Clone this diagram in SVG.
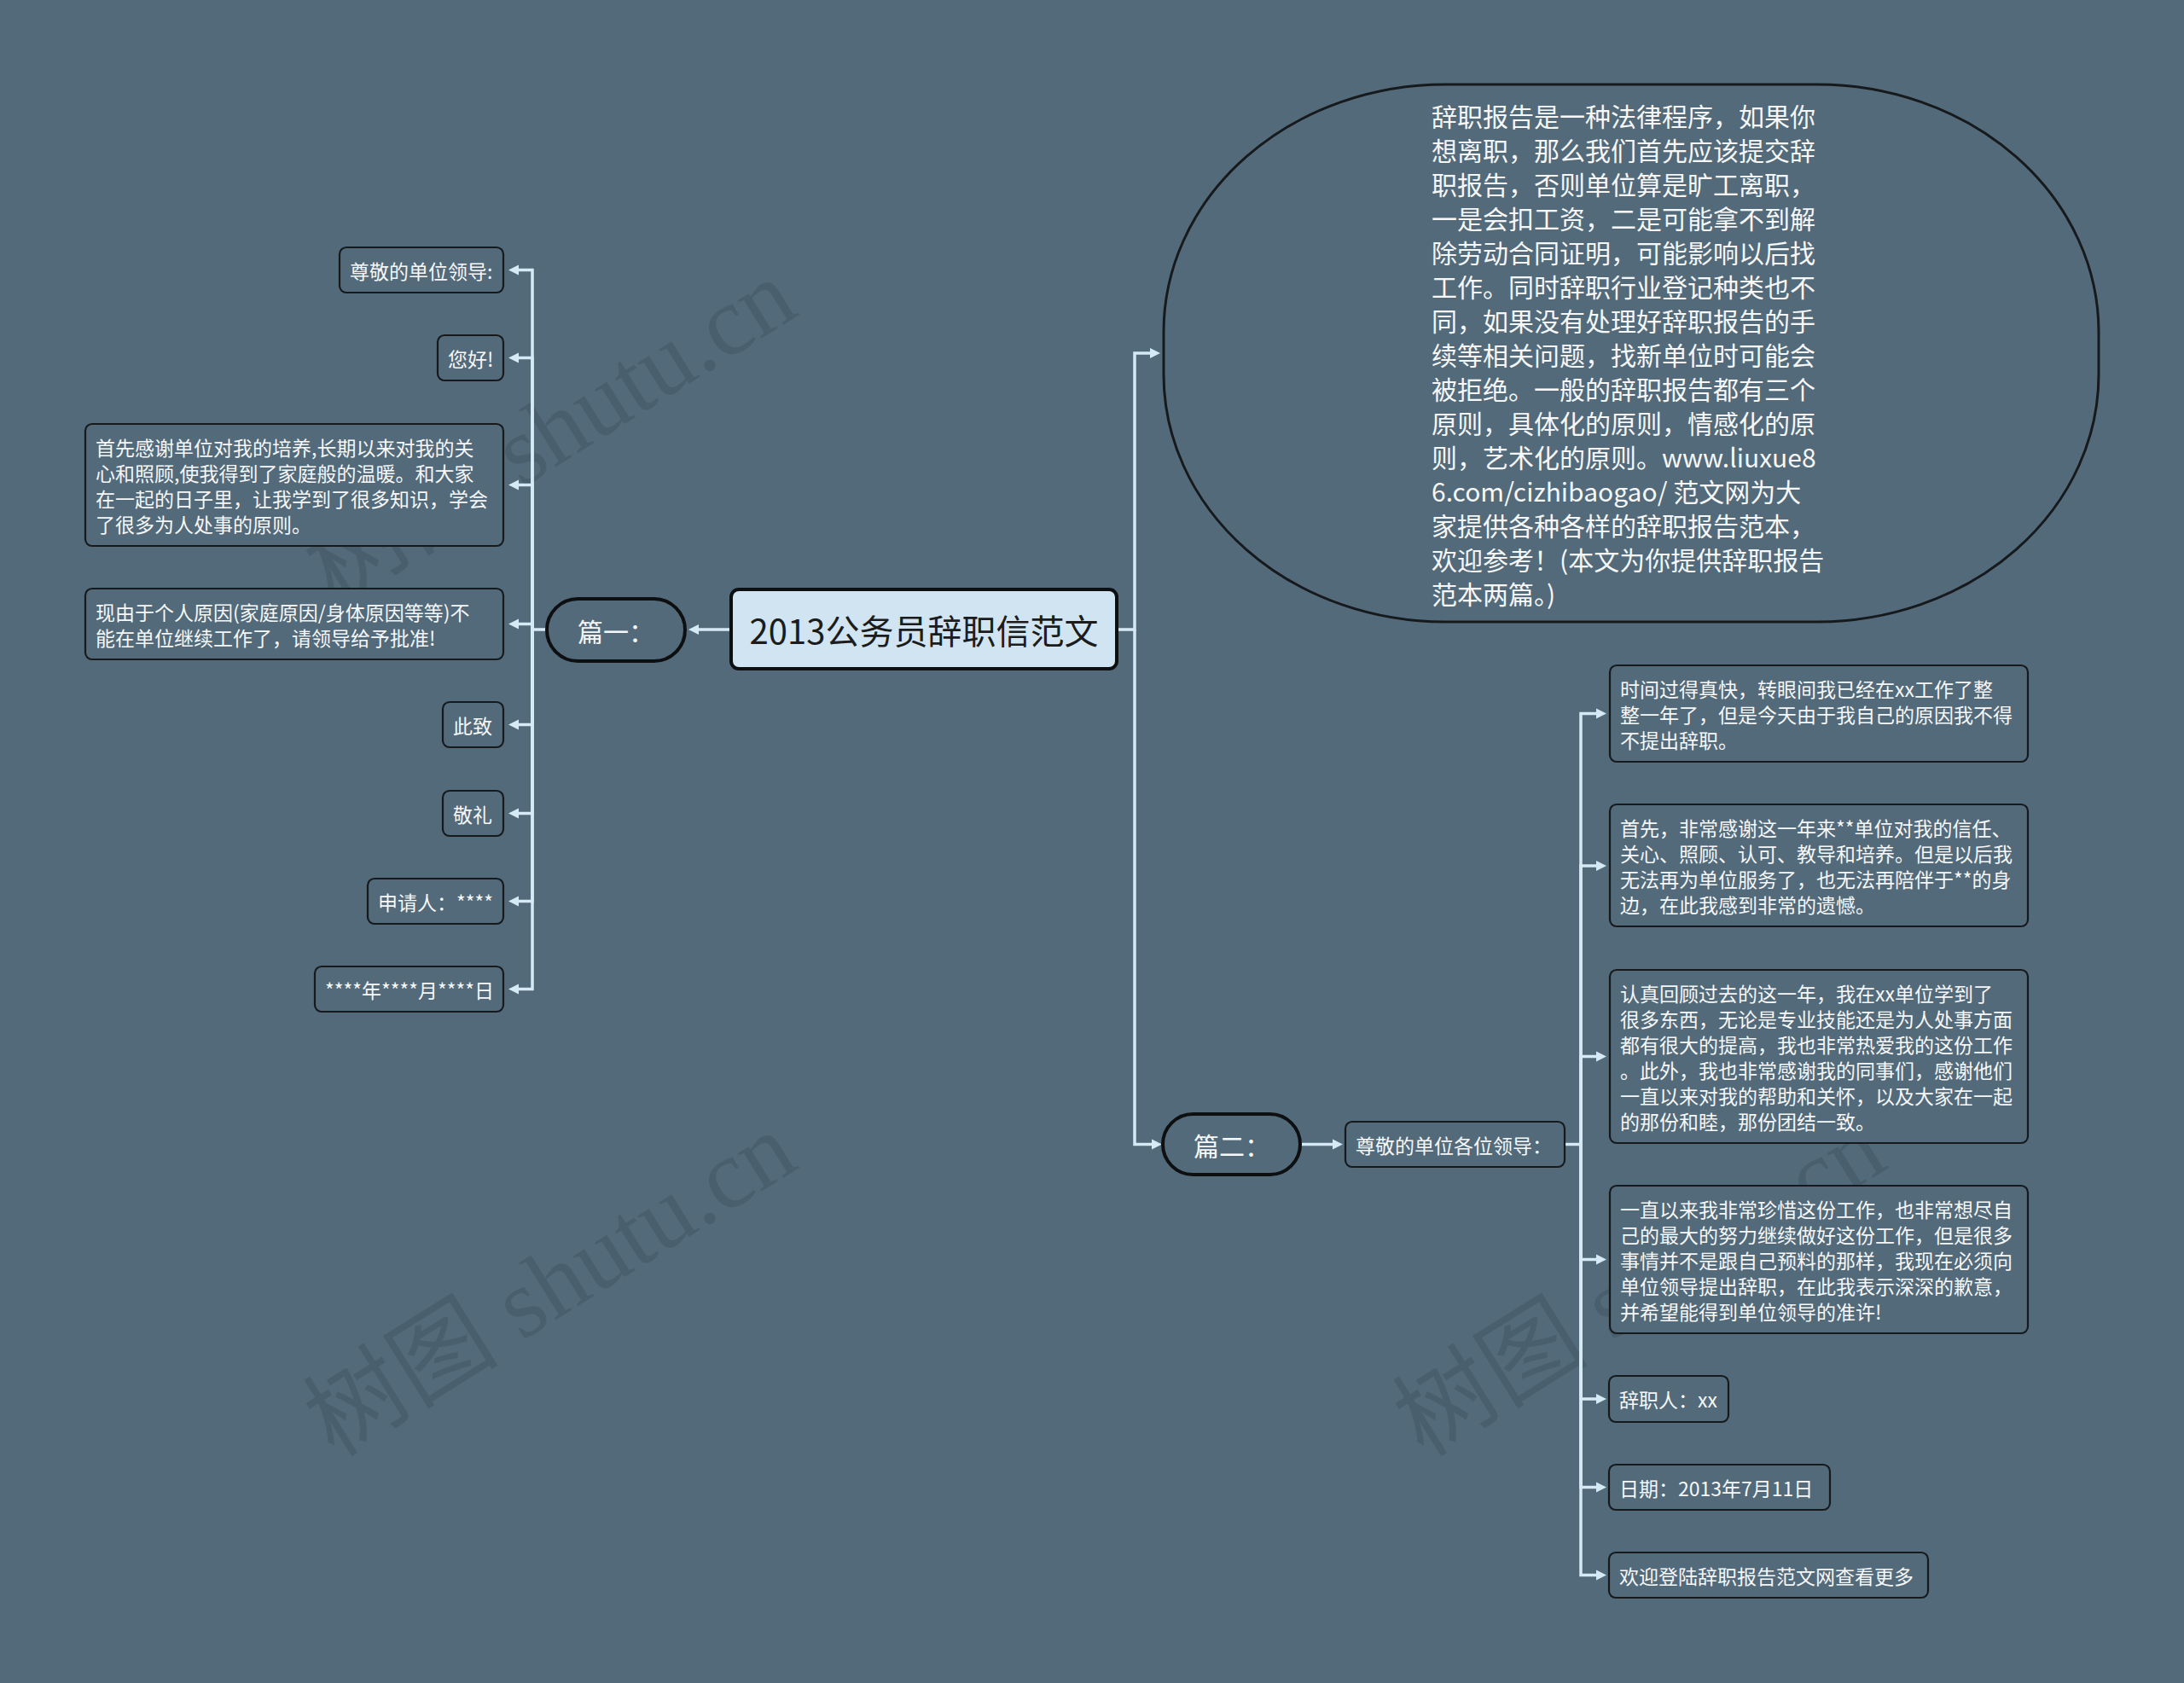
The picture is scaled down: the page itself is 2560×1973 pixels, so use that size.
<svg xmlns="http://www.w3.org/2000/svg" width="2560" height="1973" viewBox="0 0 2560 1973">
<defs>
<style>
.bg{fill:#536a7a}
.wm{font-family:"Liberation Serif","Noto Sans CJK SC",serif;font-size:115px;fill:#000;fill-opacity:0.1}
.t{font-family:"Noto Sans CJK SC","Noto Sans CJK JP",sans-serif;fill:#f5f7f8;dominant-baseline:central}
.s{font-size:23px}
.m{font-size:30px}
.box{fill:#536a7a;stroke:#161a1d;stroke-width:2.2}
.pill{fill:#536a7a;stroke:#0d0f10;stroke-width:4}
.root{fill:#d0e5f1;stroke:#0d0f10;stroke-width:4}
.rt{font-family:"Noto Sans CJK SC","Noto Sans CJK JP",sans-serif;font-size:40px;fill:#1c1c1c;dominant-baseline:central}
.c{fill:none;stroke:#d6eaf6;stroke-width:3.5;marker-end:url(#ah)}
.cn{fill:none;stroke:#d6eaf6;stroke-width:3.5}
</style>
<marker id="ah" markerUnits="userSpaceOnUse" markerWidth="13" markerHeight="13" refX="6" refY="6.5" orient="auto">
<path d="M0,0.5 L12,6.5 L0,12.5 Z" fill="#d6eaf6"/>
</marker>
</defs>
<rect class="bg" x="0" y="0" width="2560" height="1973"/>

<g id="watermarks">
<text class="wm" x="645" y="506" text-anchor="middle" dominant-baseline="central" transform="rotate(-32 645 506)">树图 shutu.cn</text>
<text class="wm" x="645" y="1506" text-anchor="middle" dominant-baseline="central" transform="rotate(-32 645 1506)">树图 shutu.cn</text>
<text class="wm" x="1922" y="506" text-anchor="middle" dominant-baseline="central" transform="rotate(-32 1922 506)">树图 shutu.cn</text>
<text class="wm" x="1922" y="1506" text-anchor="middle" dominant-baseline="central" transform="rotate(-32 1922 1506)">树图 shutu.cn</text>
</g>

<g id="connectors">
<path class="c" d="M857,738 H813"/>
<path class="c" d="M641,738 H624 V316.5 H602"/>
<path class="c" d="M624,738 V419.5 H602"/>
<path class="c" d="M624,738 V568.5 H602"/>
<path class="c" d="M624,738 V731.5 H602"/>
<path class="c" d="M624,738 V849.5 H602"/>
<path class="c" d="M624,738 V953.5 H602"/>
<path class="c" d="M624,738 V1056.5 H602"/>
<path class="c" d="M624,738 V1159.5 H602"/>
<path class="c" d="M1309,738 H1330 V414 H1354"/>
<path class="c" d="M1330,738 V1341.5 H1356"/>
<path class="c" d="M1524,1341.5 H1568"/>
<path class="cn" d="M1834,1341.5 H1853"/>
<path class="c" d="M1853,1341.5 V836.5 H1877"/>
<path class="c" d="M1853,1341.5 V1015 H1877"/>
<path class="c" d="M1853,1341.5 V1238.5 H1877"/>
<path class="c" d="M1853,1341.5 V1476.5 H1877"/>
<path class="c" d="M1853,1341.5 V1640 H1877"/>
<path class="c" d="M1853,1341.5 V1743.5 H1877"/>
<path class="c" d="M1853,1341.5 V1846.5 H1877"/>
</g>

<g id="root">
<rect class="root" x="857" y="691" width="452" height="93" rx="9"/>
<text class="rt" x="1083" y="738" text-anchor="middle">2013公务员辞职信范文</text>
</g>

<g id="p1">
<rect class="pill" x="641" y="702" width="162" height="73" rx="36.5"/>
<text class="t m" x="677" y="738.5">篇一：</text>
</g>

<g id="l1">
<rect class="box" x="398" y="290" width="192" height="53" rx="8"/>
<text class="t s" x="410" y="316.5">尊敬的单位领导:</text>
</g>
<g id="l2">
<rect class="box" x="513" y="393" width="77" height="53" rx="8"/>
<text class="t s" x="525" y="419.5">您好!</text>
</g>
<g id="l3">
<rect class="box" x="100" y="497" width="490" height="143" rx="8"/>
<text class="t s"><tspan x="112" y="523.5">首先感谢单位对我的培养,长期以来对我的关</tspan><tspan x="112" y="553.5">心和照顾,使我得到了家庭般的温暖。和大家</tspan><tspan x="112" y="583.5">在一起的日子里，让我学到了很多知识，学会</tspan><tspan x="112" y="613.5">了很多为人处事的原则。</tspan></text>
</g>
<g id="l4">
<rect class="box" x="100" y="690" width="490" height="83" rx="8"/>
<text class="t s"><tspan x="112" y="716.5">现由于个人原因(家庭原因/身体原因等等)不</tspan><tspan x="112" y="746.5">能在单位继续工作了，请领导给予批准!</tspan></text>
</g>
<g id="l5">
<rect class="box" x="519" y="823" width="71" height="53" rx="8"/>
<text class="t s" x="531" y="849.5">此致</text>
</g>
<g id="l6">
<rect class="box" x="519" y="927" width="71" height="53" rx="8"/>
<text class="t s" x="531" y="953.5">敬礼</text>
</g>
<g id="l7">
<rect class="box" x="431" y="1030" width="159" height="53" rx="8"/>
<text class="t s" x="443" y="1056.5">申请人：****</text>
</g>
<g id="l8">
<rect class="box" x="369" y="1133" width="221" height="53" rx="8"/>
<text class="t s" x="381" y="1159.5">****年****月****日</text>
</g>

<g id="intro">
<rect class="box" x="1364" y="99" width="1096" height="630" rx="330" ry="290" style="stroke-width:3"/>
<text class="t m"><tspan x="1678" y="135">辞职报告是一种法律程序，如果你</tspan><tspan x="1678" y="175">想离职，那么我们首先应该提交辞</tspan><tspan x="1678" y="215">职报告，否则单位算是旷工离职，</tspan><tspan x="1678" y="255">一是会扣工资，二是可能拿不到解</tspan><tspan x="1678" y="295">除劳动合同证明，可能影响以后找</tspan><tspan x="1678" y="335">工作。同时辞职行业登记种类也不</tspan><tspan x="1678" y="375">同，如果没有处理好辞职报告的手</tspan><tspan x="1678" y="415">续等相关问题，找新单位时可能会</tspan><tspan x="1678" y="455">被拒绝。一般的辞职报告都有三个</tspan><tspan x="1678" y="495">原则，具体化的原则，情感化的原</tspan><tspan x="1678" y="535">则，艺术化的原则。www.liuxue8</tspan><tspan x="1678" y="575">6.com/cizhibaogao/ 范文网为大</tspan><tspan x="1678" y="615">家提供各种各样的辞职报告范本，</tspan><tspan x="1678" y="655">欢迎参考！(本文为你提供辞职报告</tspan><tspan x="1678" y="695">范本两篇。)</tspan></text>
</g>

<g id="p2">
<rect class="pill" x="1363" y="1306" width="161" height="71" rx="35.5"/>
<text class="t m" x="1399" y="1342">篇二：</text>
</g>
<g id="r0">
<rect class="box" x="1577" y="1315" width="257" height="53" rx="8"/>
<text class="t s" x="1589" y="1341.5">尊敬的单位各位领导：</text>
</g>

<g id="r1">
<rect class="box" x="1887" y="780" width="490" height="113" rx="8"/>
<text class="t s"><tspan x="1899" y="806.5">时间过得真快，转眼间我已经在xx工作了整</tspan><tspan x="1899" y="836.5">整一年了，但是今天由于我自己的原因我不得</tspan><tspan x="1899" y="866.5">不提出辞职。</tspan></text>
</g>
<g id="r2">
<rect class="box" x="1887" y="943" width="490" height="143" rx="8"/>
<text class="t s"><tspan x="1899" y="969.5">首先，非常感谢这一年来**单位对我的信任、</tspan><tspan x="1899" y="999.5">关心、照顾、认可、教导和培养。但是以后我</tspan><tspan x="1899" y="1029.5">无法再为单位服务了，也无法再陪伴于**的身</tspan><tspan x="1899" y="1059.5">边，在此我感到非常的遗憾。</tspan></text>
</g>
<g id="r3">
<rect class="box" x="1887" y="1137" width="490" height="203" rx="8"/>
<text class="t s"><tspan x="1899" y="1163.5">认真回顾过去的这一年，我在xx单位学到了</tspan><tspan x="1899" y="1193.5">很多东西，无论是专业技能还是为人处事方面</tspan><tspan x="1899" y="1223.5">都有很大的提高，我也非常热爱我的这份工作</tspan><tspan x="1899" y="1253.5">。此外，我也非常感谢我的同事们，感谢他们</tspan><tspan x="1899" y="1283.5">一直以来对我的帮助和关怀，以及大家在一起</tspan><tspan x="1899" y="1313.5">的那份和睦，那份团结一致。</tspan></text>
</g>
<g id="r4">
<rect class="box" x="1887" y="1390" width="490" height="173" rx="8"/>
<text class="t s"><tspan x="1899" y="1416.5">一直以来我非常珍惜这份工作，也非常想尽自</tspan><tspan x="1899" y="1446.5">己的最大的努力继续做好这份工作，但是很多</tspan><tspan x="1899" y="1476.5">事情并不是跟自己预料的那样，我现在必须向</tspan><tspan x="1899" y="1506.5">单位领导提出辞职，在此我表示深深的歉意，</tspan><tspan x="1899" y="1536.5">并希望能得到单位领导的准许!</tspan></text>
</g>
<g id="r5">
<rect class="box" x="1886" y="1613" width="140" height="54" rx="8"/>
<text class="t s" x="1898" y="1640">辞职人：xx</text>
</g>
<g id="r6">
<rect class="box" x="1886" y="1717" width="259" height="53" rx="8"/>
<text class="t s" x="1898" y="1743.5">日期：2013年7月11日</text>
</g>
<g id="r7">
<rect class="box" x="1886" y="1820" width="374" height="53" rx="8"/>
<text class="t s" x="1898" y="1846.5">欢迎登陆辞职报告范文网查看更多</text>
</g>
</svg>
